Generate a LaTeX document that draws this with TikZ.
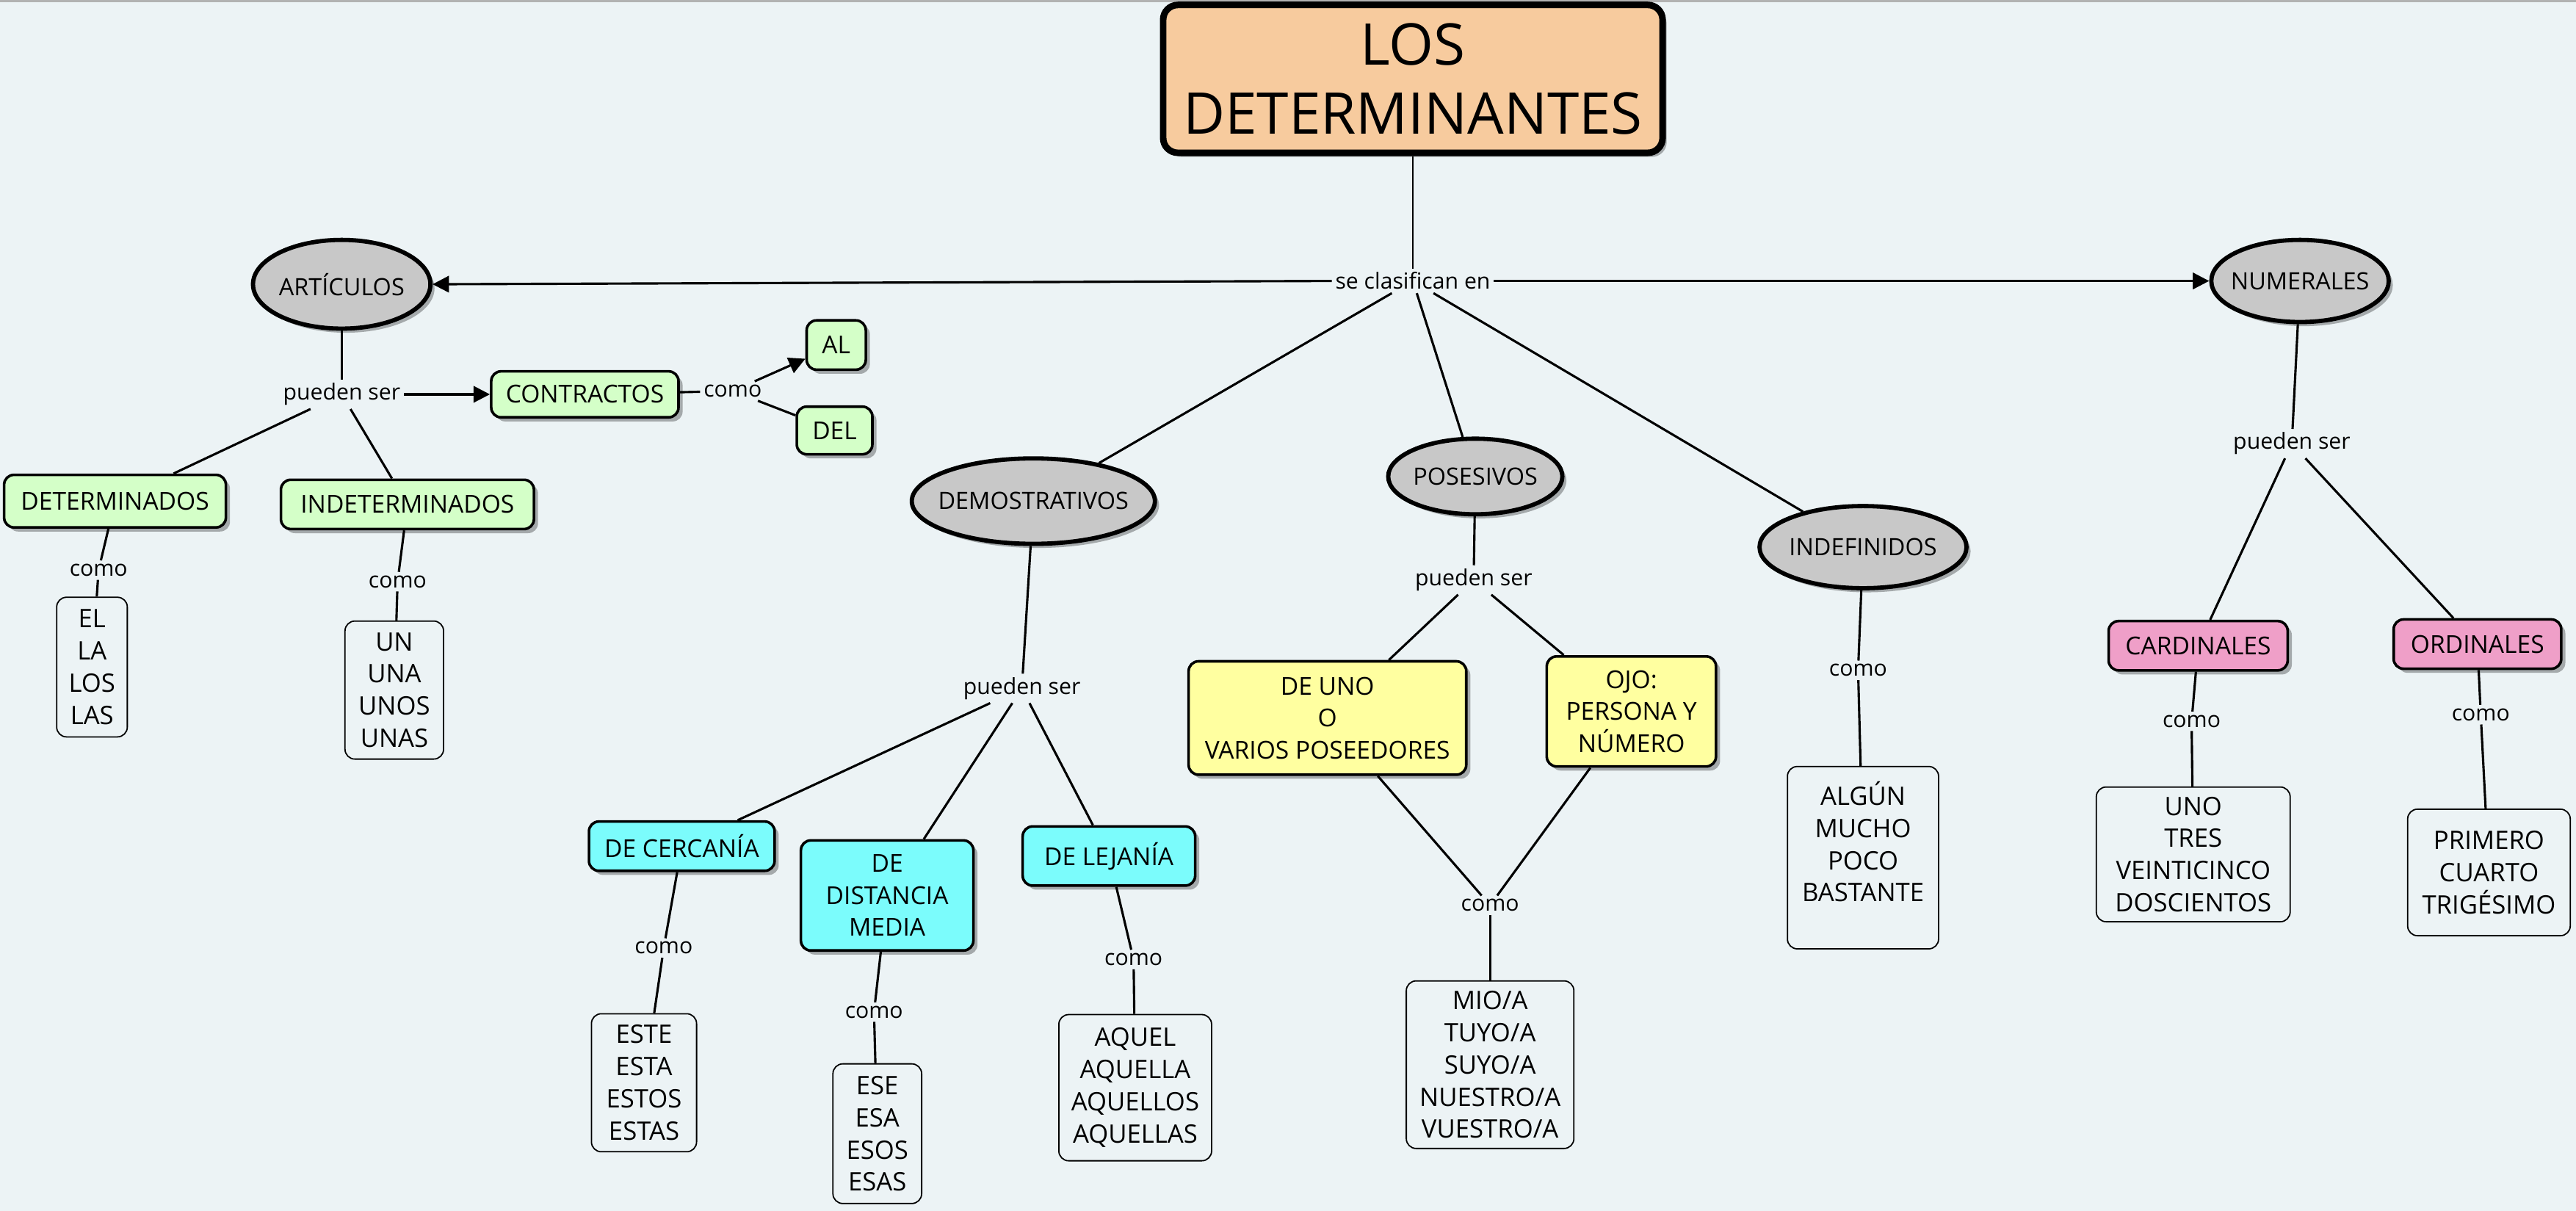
\documentclass[tikz,border=0pt]{standalone}
\usepackage{fontspec}
\setmainfont{Open Sans}
\usetikzlibrary{shapes.geometric,arrows.meta,shadows}
\definecolor{bgc}{RGB}{236,243,245}
\definecolor{peach}{RGB}{247,203,158}
\definecolor{ellgray}{RGB}{200,200,200}
\definecolor{lgreen}{RGB}{212,255,200}
\definecolor{lcyan}{RGB}{123,252,252}
\definecolor{lyellow}{RGB}{255,255,160}
\definecolor{lpink}{RGB}{239,159,200}
\tikzset{
  shad/.style={drop shadow={shadow xshift=2.5pt,shadow yshift=-2.5pt,fill=black,opacity=0.3}},
  titlebox/.style={draw,line width=4pt,rounded corners=9pt,fill=peach,shad,align=center,inner sep=0pt,
    font=\fontsize{35}{42}\selectfont},
  ell/.style={ellipse,draw,line width=2.6pt,fill=ellgray,shad,inner xsep=-8pt,inner ysep=0pt,font=\fontsize{14.5}{15}\selectfont},
  concept/.style={draw,line width=1.6pt,rounded corners=6pt,shad,align=center,inner sep=0pt,
    font=\fontsize{15}{19.5}\selectfont},
  gbox/.style={concept,fill=lgreen},
  cbox/.style={concept,fill=lcyan},
  ybox/.style={concept,fill=lyellow},
  pbox/.style={concept,fill=lpink},
  leaf/.style={draw,line width=0.8pt,rounded corners=6pt,align=center,inner sep=0pt,
    font=\fontsize{15.5}{19.6}\selectfont},
  lbl/.style={inner sep=2pt,font=\fontsize{13.5}{14}\selectfont},
  conn/.style={line width=1.4pt},
  arr/.style={conn,-{Triangle[length=10pt,width=10pt]}}
}
\begin{document}
\begin{tikzpicture}[x=1pt,y=-1pt]
\useasboundingbox (0,0) rectangle (1568,737);
\fill[bgc] (0,0) rectangle (1568,737);
\draw[gray!60,line width=2pt] (0,0.5) -- (1568,0.5);

% title
\node[titlebox,minimum width=304,minimum height=90] (title) at (860,48) {LOS\\DETERMINANTES};
\node[lbl] (sc) at (860,171) {se clasifican en};

% main ellipses
\node[ell,minimum width=108,minimum height=54] (art) at (208,173) {ARTÍCULOS};
\node[ell,minimum width=108,minimum height=50] (num) at (1400,171) {NUMERALES};
\node[ell,minimum width=148,minimum height=52] (dem) at (629,305) {DEMOSTRATIVOS};
\node[ell,minimum width=106,minimum height=46] (pos) at (898,290) {POSESIVOS};
\node[ell,minimum width=126,minimum height=50] (ind) at (1134,333) {INDEFINIDOS};

\draw[conn,line width=1pt] (title) -- (sc);
\draw[arr] (sc.west) -- (art.east);
\draw[arr] (sc.east) -- (num.west);
\draw[conn] (sc) -- (dem);
\draw[conn] (sc) -- (pos);
\draw[conn] (sc) -- (ind);

% ARTICULOS branch
\node[lbl] (pa) at (208,240) {pueden ser};
\node[gbox,minimum width=114,minimum height=28] (contr) at (356,240) {CONTRACTOS};
\node[lbl] (cc) at (446,238) {como};
\node[gbox,minimum width=36,minimum height=30] (al) at (509,210) {AL};
\node[gbox,minimum width=46,minimum height=29] (del) at (508,262) {DEL};
\node[gbox,minimum width=135,minimum height=32] (det) at (70,305) {DETERMINADOS};
\node[gbox,minimum width=154,minimum height=30] (indet) at (248,307) {INDETERMINADOS};
\node[lbl] (cd) at (60,347) {como};
\node[lbl] (ci) at (242,354) {como};
\node[leaf,minimum width=43,minimum height=85] (l1) at (56,406) {EL\\LA\\LOS\\LAS};
\node[leaf,minimum width=60,minimum height=84] (l2) at (240,420) {UN\\UNA\\UNOS\\UNAS};

\draw[conn] (art) -- (pa);
\draw[arr] (pa) -- (contr);
\draw[conn] (contr) -- (cc);
\draw[arr] (cc) -- (al);
\draw[conn] (cc) -- (del);
\draw[conn] (pa) -- (det);
\draw[conn] (pa) -- (indet);
\draw[conn] (det) -- (cd);
\draw[conn] (cd) -- (l1);
\draw[conn] (indet) -- (ci);
\draw[conn] (ci) -- (l2);

% DEMOSTRATIVOS branch
\node[lbl] (pd) at (622,419) {pueden ser};
\node[cbox,minimum width=113,minimum height=30] (cer) at (415,515) {DE CERCANÍA};
\node[cbox,minimum width=105,minimum height=67] (med) at (540,545) {DE\\DISTANCIA\\MEDIA};
\node[cbox,minimum width=105,minimum height=36] (lej) at (675,521) {DE LEJANÍA};
\node[lbl] (c1) at (404,577) {como};
\node[lbl] (c2) at (532,616) {como};
\node[lbl] (c3) at (690,584) {como};
\node[leaf,minimum width=64,minimum height=84] (l3) at (392,659) {ESTE\\ESTA\\ESTOS\\ESTAS};
\node[leaf,minimum width=54,minimum height=85] (l4) at (534,690) {ESE\\ESA\\ESOS\\ESAS};
\node[leaf,minimum width=93,minimum height=89] (l5) at (691,662) {AQUEL\\AQUELLA\\AQUELLOS\\AQUELLAS};

\draw[conn] (dem) -- (pd);
\draw[conn] (pd) -- (cer);
\draw[conn] (pd) -- (med);
\draw[conn] (pd) -- (lej);
\draw[conn] (cer) -- (c1);
\draw[conn] (c1) -- (l3);
\draw[conn] (med) -- (c2);
\draw[conn] (c2) -- (l4);
\draw[conn] (lej) -- (c3);
\draw[conn] (c3) -- (l5);

% POSESIVOS branch
\node[lbl] (pp) at (897,353) {pueden ser};
\node[ybox,minimum width=169,minimum height=69] (uno) at (808,437) {DE UNO\\O\\VARIOS POSEEDORES};
\node[ybox,minimum width=103,minimum height=67] (ojo) at (993,433) {OJO:\\PERSONA Y\\NÚMERO};
\node[lbl] (cp) at (907,551) {como};
\node[leaf,minimum width=102,minimum height=102] (l6) at (907,648) {MIO/A\\TUYO/A\\SUYO/A\\NUESTRO/A\\VUESTRO/A};

\draw[conn] (pos) -- (pp);
\draw[conn] (pp) -- (uno);
\draw[conn] (pp) -- (ojo);
\draw[conn] (uno) -- (cp);
\draw[conn] (ojo) -- (cp);
\draw[conn] (cp) -- (l6);

% INDEFINIDOS branch
\node[lbl] (cn) at (1131,408) {como};
\node[leaf,minimum width=92,minimum height=111] (l7) at (1134,522) {ALGÚN\\MUCHO\\POCO\\BASTANTE\\~};
\draw[conn] (ind) -- (cn);
\draw[conn] (cn) -- (l7);

% NUMERALES branch
\node[lbl] (pn) at (1395,270) {pueden ser};
\node[pbox,minimum width=109,minimum height=30] (card) at (1338,393) {CARDINALES};
\node[pbox,minimum width=102,minimum height=30] (ord) at (1508,392) {ORDINALES};
\node[lbl] (c4) at (1334,439) {como};
\node[lbl] (c5) at (1510,435) {como};
\node[leaf,minimum width=118,minimum height=82] (l8) at (1335,520) {UNO\\TRES\\VEINTICINCO\\DOSCIENTOS};
\node[leaf,minimum width=99,minimum height=77] (l9) at (1515,531) {PRIMERO\\CUARTO\\TRIGÉSIMO};

\draw[conn] (num) -- (pn);
\draw[conn] (pn) -- (card);
\draw[conn] (pn) -- (ord);
\draw[conn] (card) -- (c4);
\draw[conn] (c4) -- (l8);
\draw[conn] (ord) -- (c5);
\draw[conn] (c5) -- (l9);
\end{tikzpicture}
\end{document}
